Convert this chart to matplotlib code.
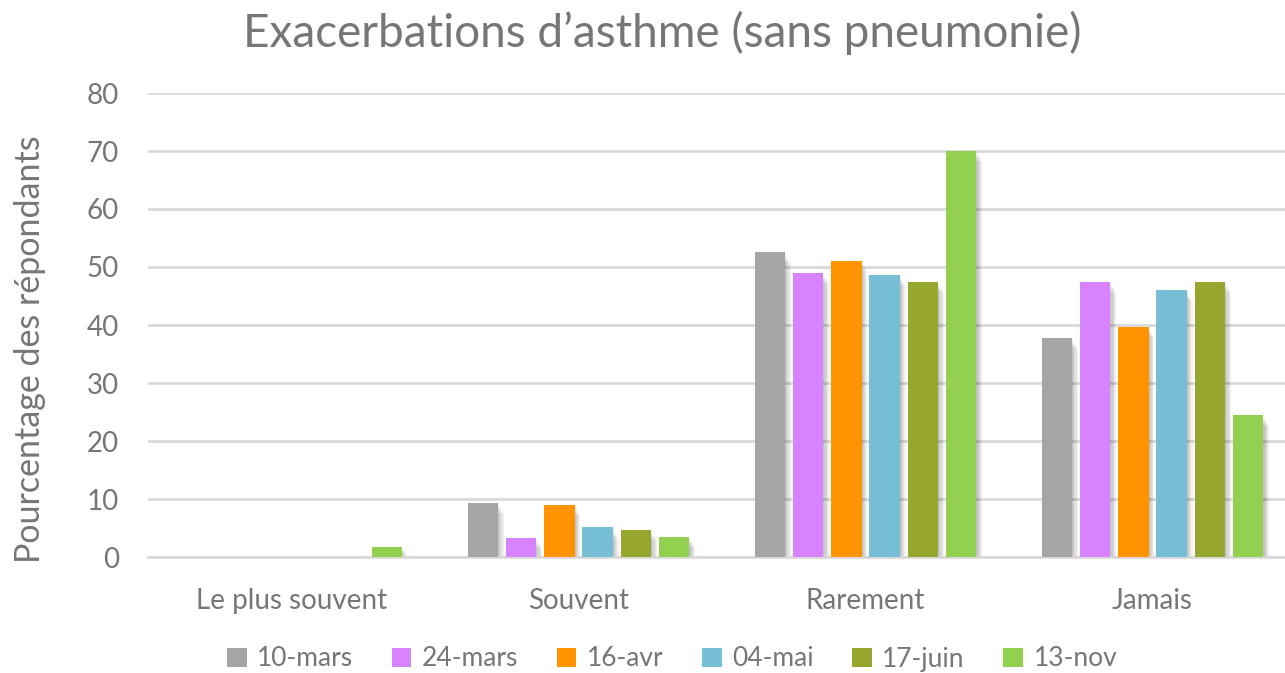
import numpy as np
import matplotlib

matplotlib.use("Agg")
import matplotlib.pyplot as plt  # noqa: E402
from matplotlib.patches import Patch  # noqa: E402

plt.rcParams["font.family"] = ["Lato", "DejaVu Sans"]

categories = ["Le plus souvent", "Souvent", "Rarement", "Jamais"]
series = ["10-mars", "24-mars", "16-avr", "04-mai", "17-juin", "13-nov"]
values = {
    "10-mars": [0, 9.3, 52.5, 37.7],
    "24-mars": [0, 3.3, 49.0, 47.4],
    "16-avr": [0, 9.0, 51.0, 39.6],
    "04-mai": [0, 5.1, 48.6, 46.0],
    "17-juin": [0, 4.7, 47.4, 47.4],
    "13-nov": [1.7, 3.5, 70.0, 24.4],
}
colors = ["#A5A5A5", "#D783FF", "#FF9300", "#75BED3", "#97A62E", "#92D050"]
yticks = [0, 10, 20, 30, 40, 50, 60, 70, 80]

TEXT = "#767676"
GRID = "#D9D9D9"

fig = plt.figure(figsize=(12.85, 6.73), dpi=100)
# plot area: x from 148 px, one category = 287 px, y 0 at 557 px, 80 at 93 px
ax = fig.add_axes([148 / 1285, (673 - 557) / 673, 4 * 287 / 1285, (557 - 93) / 673])
ax.set_xlim(-0.5, 3.5)
ax.set_ylim(0, 80)

x = np.arange(len(categories))
pitch = 0.1334
width = 0.1056
offsets = (np.arange(len(series)) - (len(series) - 1) / 2) * pitch

# soft drop shadow under each bar
dx = 0.004
for i, name in enumerate(series):
    vals = np.array(values[name], dtype=float)
    for k in range(1, 6):
        ax.bar(x + offsets[i] + dx * k, np.maximum(vals - 0.35 * k, 0),
               width=width, color="black", alpha=0.05, linewidth=0, zorder=2)

for i, name in enumerate(series):
    ax.bar(x + offsets[i], values[name], width=width, color=colors[i],
           linewidth=0, zorder=3)

ax.set_yticks(yticks)
ax.yaxis.grid(True, color=GRID, linewidth=2, zorder=0)
ax.set_axisbelow(True)
ax.tick_params(axis="y", length=0, pad=21, labelsize=20, labelcolor=TEXT)
ax.set_xticks(x)
ax.set_xticklabels(categories)
ax.tick_params(axis="x", length=0, pad=22, labelsize=20, labelcolor=TEXT)
for s in ["top", "right", "left"]:
    ax.spines[s].set_visible(False)
ax.spines["bottom"].set_color(GRID)
ax.spines["bottom"].set_linewidth(2)

ax.set_ylabel("Pourcentage des répondants", fontsize=24.5, color=TEXT)
ax.yaxis.set_label_coords((46 - 148) / 1148, (557 - 349) / 464)

fig.text(662 / 1285, 1 - 33 / 673, "Exacerbations d’asthme (sans pneumonie)",
         ha="center", va="center", fontsize=33, color=TEXT)

handles = [Patch(facecolor=c, edgecolor="none") for c in colors]
fig.legend(handles, series, loc="center", bbox_to_anchor=(672 / 1285, 1 - 659 / 673),
           ncol=6, frameon=False, fontsize=19, labelcolor=TEXT,
           handlelength=0.75, handleheight=0.75, handletextpad=0.4, columnspacing=1.45)

fig.savefig("out.png", dpi=100)
